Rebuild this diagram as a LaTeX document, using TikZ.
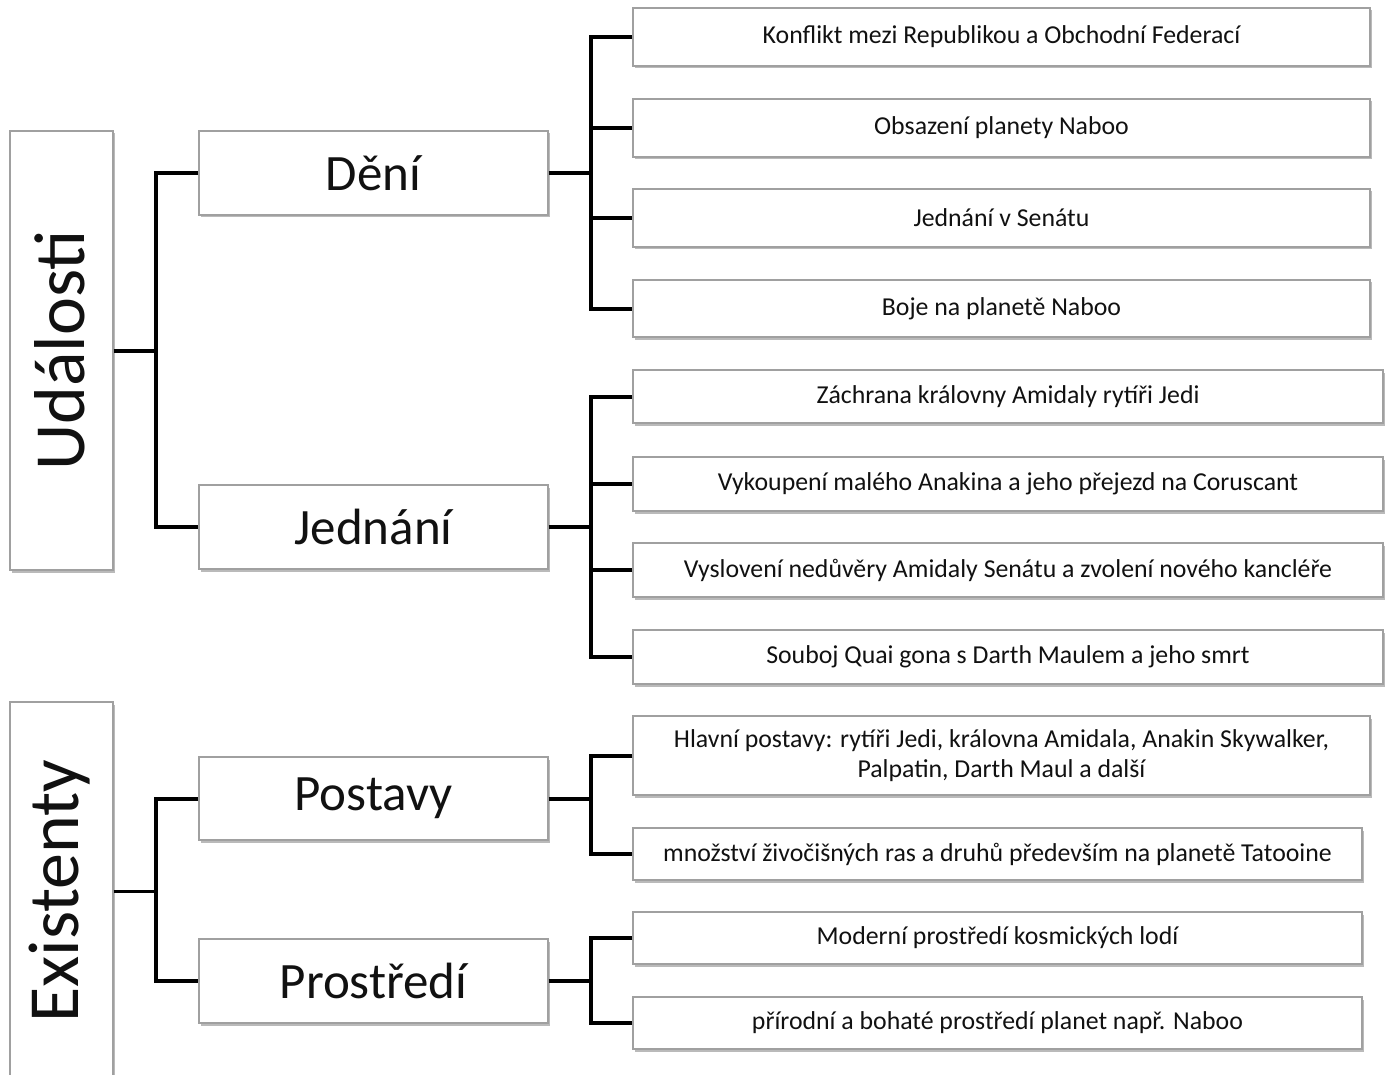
\documentclass[tikz,border=0pt]{standalone}
\usepackage{fontspec}
\setmainfont{Carlito}
\usetikzlibrary{shadows}
\definecolor{bordergray}{HTML}{A0A0A0}
\definecolor{txt}{HTML}{111111}
\tikzset{
  basebox/.style={draw=bordergray, line width=1.3pt, fill=white, inner sep=0pt, text=txt,
    drop shadow={shadow xshift=2pt, shadow yshift=-2.5pt, opacity=0.45, fill=black!60}},
  lbox/.style={basebox},
  ltext/.style={rotate=90, font=\fontsize{72}{84}\selectfont, text=txt},
  mbox/.style={basebox, minimum width=349pt, font=\fontsize{51}{60}\selectfont},
  rbox/.style={basebox, align=center, font=\fontsize{25.8}{29.5}\selectfont},
  conn/.style={line width=4pt, black, line join=miter},
}
\begin{document}
\begin{tikzpicture}[x=1pt,y=-1pt]
\useasboundingbox (0,0) rectangle (1389,1075);
% left boxes
\node[lbox, minimum width=103pt, minimum height=439pt] (ud) at (61.5,350.5) {};
\node[ltext] (udt) at ([xshift=-2pt]ud.center) {Události};
\node[lbox, minimum width=103pt, minimum height=378pt] (ex) at (61.5,891) {};
\node[ltext] (ext) at ([xshift=-2pt]ex.center) {Existenty};
% middle boxes
\node[mbox, minimum height=84pt] (de) at (373.5,173) {Dění};
\node[mbox, minimum height=84pt] (je) at (373.5,527) {Jednání};
\node[mbox, minimum height=83pt] (po) at (373.5,798.5) {Postavy};
\node[mbox, minimum height=84pt] (pr) at (373.5,981) {Prostředí};
% right boxes
\node[rbox, minimum width=737pt, minimum height=58pt] (k1) at (1001.5,37) {Konflikt mezi Republikou a Obchodní Federací};
\node[rbox, minimum width=737pt, minimum height=58pt] (k2) at (1001.5,128) {Obsazení planety Naboo};
\node[rbox, minimum width=737pt, minimum height=58pt] (k3) at (1001.5,218) {Jednání v Senátu};
\node[rbox, minimum width=737pt, minimum height=57pt] (k4) at (1001.5,308.5) {Boje na planetě Naboo};
\node[rbox, minimum width=750pt, minimum height=53pt] (z1) at (1008,396.5) {Záchrana královny Amidaly rytíři Jedi};
\node[rbox, minimum width=750pt, minimum height=54pt] (z2) at (1008,484) {Vykoupení malého Anakina a jeho přejezd na Coruscant};
\node[rbox, minimum width=750pt, minimum height=54pt] (z3) at (1008,570) {Vyslovení nedůvěry Amidaly Senátu a zvolení nového kancléře};
\node[rbox, minimum width=750pt, minimum height=54pt] (z4) at (1008,657) {Souboj Quai gona s Darth Maulem a jeho smrt};
\node[rbox, minimum width=737pt, minimum height=79pt] (p1) at (1001.5,755.5) {Hlavní postavy: rytíři Jedi, královna Amidala, Anakin Skywalker,\\Palpatin, Darth Maul a další};
\node[rbox, minimum width=729pt, minimum height=52pt] (p2) at (997.5,854) {množství živočišných ras a druhů především na planetě Tatooine};
\node[rbox, minimum width=729pt, minimum height=52pt] (r1) at (997.5,938) {Moderní prostředí kosmických lodí};
\node[rbox, minimum width=729pt, minimum height=52pt] (r2) at (997.5,1023) {přírodní a bohaté prostředí planet např. Naboo};
% connectors
\draw[conn] (ud.east) -- ++(42,0) coordinate (b1);
\draw[conn] (de.west) -| (b1) |- (je.west);
\draw[line width=3pt] (ex.east) -- ++(42,0) coordinate (b2);
\draw[conn] (po.west) -| (b2) |- (pr.west);
\draw[conn] (de.east) -- ++(42,0) coordinate (b3);
\draw[conn] (k1.west) -| (b3) |- (k4.west);
\draw[conn] (b3 |- k2.west) -- (k2.west);
\draw[conn] (b3 |- k3.west) -- (k3.west);
\draw[conn] (je.east) -- ++(42,0) coordinate (b4);
\draw[conn] (z1.west) -| (b4) |- (z4.west);
\draw[conn] (b4 |- z2.west) -- (z2.west);
\draw[conn] (b4 |- z3.west) -- (z3.west);
\draw[conn] (po.east) -- ++(42,0) coordinate (b5);
\draw[conn] (p1.west) -| (b5) |- (p2.west);
\draw[conn] (pr.east) -- ++(42,0) coordinate (b6);
\draw[conn] (r1.west) -| (b6) |- (r2.west);
\end{tikzpicture}
\end{document}
